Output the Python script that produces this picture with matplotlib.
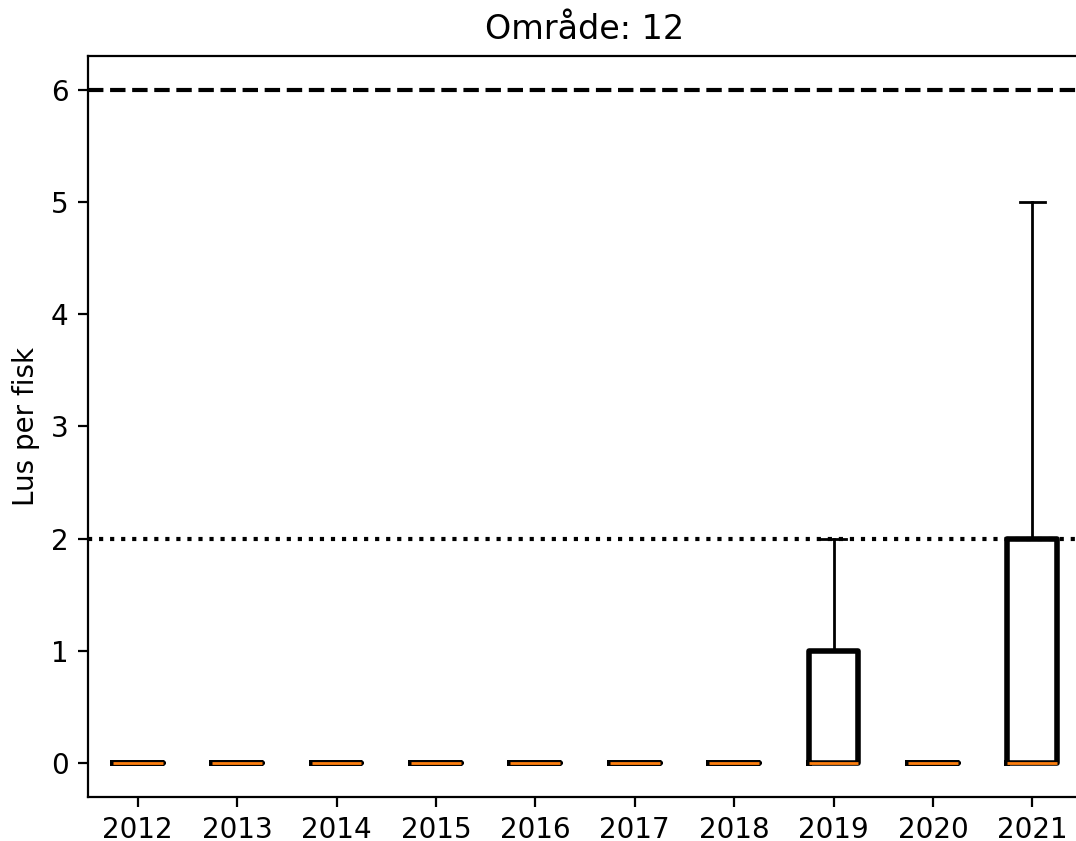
import matplotlib
matplotlib.use("Agg")
import matplotlib.pyplot as plt

years = [2012, 2013, 2014, 2015, 2016, 2017, 2018, 2019, 2020, 2021]
medians = [0, 0, 0, 0, 0, 0, 0, 0, 0, 0]
q1 = [0, 0, 0, 0, 0, 0, 0, 0, 0, 0]
q3 = [0, 0, 0, 0, 0, 0, 0, 1, 0, 2]
whisker_low = [0, 0, 0, 0, 0, 0, 0, 0, 0, 0]
whisker_high = [0, 0, 0, 0, 0, 0, 0, 2, 0, 5]

limit_high = 6
limit_low = 2

stats = []
for i, year in enumerate(years):
    stats.append({
        "label": str(year),
        "med": medians[i],
        "q1": q1[i],
        "q3": q3[i],
        "whislo": whisker_low[i],
        "whishi": whisker_high[i],
        "fliers": [],
    })

W, H, dpi = 1076, 841, 200
fig = plt.figure(figsize=(W / dpi, H / dpi), dpi=dpi)
# axes runs a little past the right edge of the canvas
ax = fig.add_axes([88 / W, 1 - 797 / H, (1082 - 88) / W, (797 - 56) / H])

ax.bxp(stats, showfliers=False,
       boxprops=dict(linewidth=2, color="black"),
       medianprops=dict(linewidth=1, color="C1"))

ax.axhline(limit_high, color="black", linestyle="--", linewidth=1.5)
ax.axhline(limit_low, color="black", linestyle=":", linewidth=1.5)

ax.set_ylim(-0.3, 6.3)
ax.spines["right"].set_visible(False)
ax.set_ylabel("Lus per fisk")
ax.set_title("Område: 12")

fig.savefig("out.png", dpi=dpi)
